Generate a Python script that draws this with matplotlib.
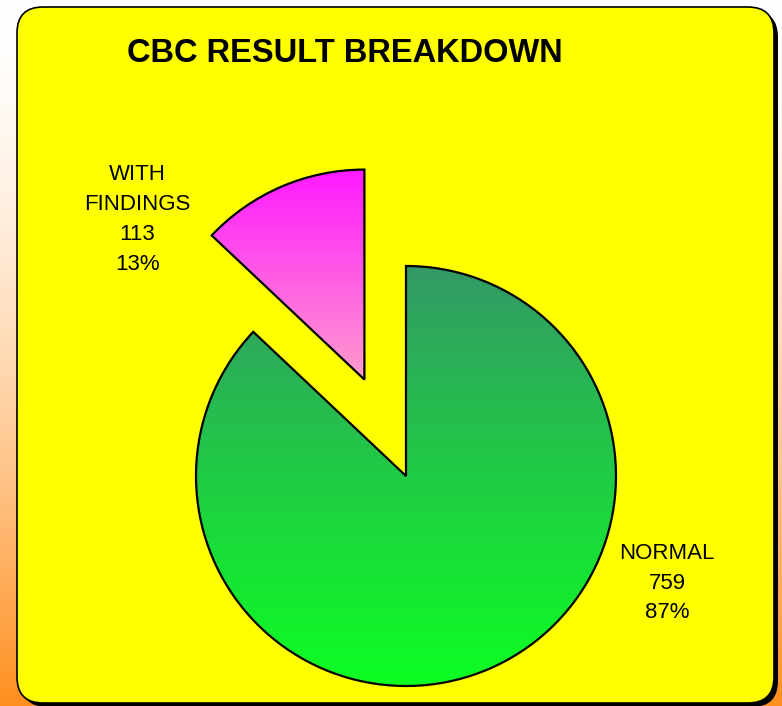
import numpy as np
import matplotlib
matplotlib.use("Agg")
import matplotlib.pyplot as plt
from matplotlib.patches import FancyBboxPatch
from matplotlib.colors import LinearSegmentedColormap

# --- data -------------------------------------------------------------
title = "CBC RESULT BREAKDOWN"
categories = ["WITH\nFINDINGS", "NORMAL"]
counts = [113, 759]
explode = [0.5, 0.0]

# --- styling ----------------------------------------------------------
W, H = 782, 706
DPI = 100
center_px = (406, 476)
radius_px = 210
label_pos = [(-1.28, 1.222), (1.243, -0.51)]
gradients = [("#ff1aff", "#ff9ccc"), ("#339966", "#0dff22")]

plt.rcParams["font.family"] = ["Liberation Sans", "DejaVu Sans"]

fig = plt.figure(figsize=(W / DPI, H / DPI), dpi=DPI)

# background: white-to-orange vertical wash, with the rounded yellow panel
bg = fig.add_axes([0, 0, 1, 1])
bg.set_xlim(0, W)
bg.set_ylim(H, 0)
bg.axis("off")
t = np.linspace(0, 1, 256) ** 1.6
c0 = np.array([1.0, 1.0, 1.0])
c1 = np.array([1.0, 0.56, 0.12])
grad = c0[None, :] * (1 - t[:, None]) + c1[None, :] * t[:, None]
bg.imshow(grad[:, None, :], extent=(0, W, H, 0), aspect="auto", zorder=0)

box_x0, box_y0, box_x1, box_y1, rad = 17, 7, 774, 703, 26
shadow = FancyBboxPatch((box_x0 + 4, box_y0 + 4), box_x1 - box_x0, box_y1 - box_y0,
                        boxstyle=f"round,pad=0,rounding_size={rad}",
                        facecolor="black", edgecolor="none", zorder=1)
panel = FancyBboxPatch((box_x0, box_y0), box_x1 - box_x0, box_y1 - box_y0,
                       boxstyle=f"round,pad=0,rounding_size={rad}",
                       facecolor="#ffff00", edgecolor="black", linewidth=1.2, zorder=2)
bg.add_patch(shadow)
bg.add_patch(panel)

bg.text(345, 53, title, ha="center", va="center", fontsize=23.5,
        fontweight="bold", color="black", zorder=3)

# pie axes: data units are pie radii, placed so the pie centre lands on center_px
ax = fig.add_axes([0, 0, 1, 1])
ax.patch.set_visible(False)
cx, cy = center_px
ax.pie(counts, explode=explode, startangle=90, counterclock=True,
       radius=1.0, center=(0, 0),
       wedgeprops=dict(edgecolor="black", linewidth=1.6, facecolor="none"))
ax.axis("off")

total = sum(counts)
for wedge, (top, bottom), name, n, pos in zip(ax.patches, gradients,
                                               categories, counts, label_pos):
    ext = wedge.get_path().get_extents()
    cmap = LinearSegmentedColormap.from_list("g", [bottom, top])
    img = ax.imshow(np.linspace(0, 1, 256)[:, None],
                    extent=(ext.x0, ext.x1, ext.y0, ext.y1),
                    origin="lower", cmap=cmap, aspect="auto", zorder=1)
    img.set_clip_path(wedge)
    wedge.set_zorder(2)
    pct = round(100 * n / total)
    ax.text(pos[0], pos[1], f"{name}\n{n}\n{pct}%", ha="center", va="center",
            fontsize=16, linespacing=1.55, color="black", zorder=3)

ax.set_aspect("auto")
ax.set_xlim(-cx / radius_px, (W - cx) / radius_px)
ax.set_ylim(-(H - cy) / radius_px, cy / radius_px)

fig.savefig("out.png", dpi=DPI)
